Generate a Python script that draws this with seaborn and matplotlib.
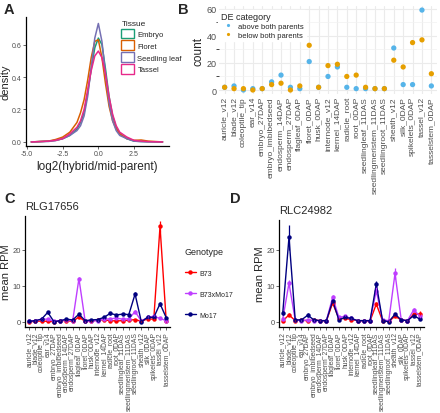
import numpy as np
import pandas as pd
import seaborn as sns
import matplotlib.pyplot as plt
from matplotlib.patches import Patch
from matplotlib.lines import Line2D

sns.set_style('ticks')
plt.rcParams['font.family'] = ['Liberation Sans', 'DejaVu Sans']

# tissues (panels B, C, D)
tissues = ['auricle_v12', 'blade_v12', 'coleoptile_tip', 'ear_v14', 'embryo_27DAP',
           'embryo_imbibedseed', 'endosperm_14DAP', 'endosperm_27DAP', 'flagleaf_0DAP',
           'floret_0DAP', 'husk_0DAP', 'internode_v12', 'kernel_14DAP', 'radicle_root',
           'root_0DAP', 'seedlingleaf_11DAS', 'seedlingmeristem_11DAS', 'seedlingroot_11DAS',
           'sheath_v12', 'silk_0DAP', 'spikelets_0DAP', 'tassel_v12', 'tasselstem_0DAP']

# panel A: density curves
dens_x = [-4.7, -3.5, -3.0, -2.5, -2.0, -1.5, -1.25, -1.0, -0.75, -0.5, -0.25, 0.0,
          0.25, 0.5, 0.75, 1.0, 1.25, 1.5, 2.0, 2.5, 3.0, 3.5, 4.5]
embryo = [0, 0.005, 0.01, 0.02, 0.04, 0.08, 0.12, 0.18, 0.30, 0.45, 0.58, 0.64,
          0.60, 0.45, 0.28, 0.16, 0.09, 0.05, 0.02, 0.005, 0.003, 0.001, 0]
floret = [0, 0.005, 0.015, 0.03, 0.06, 0.12, 0.18, 0.26, 0.38, 0.52, 0.62, 0.63,
          0.52, 0.36, 0.22, 0.13, 0.08, 0.05, 0.02, 0.01, 0.012, 0.005, 0]
seedling_leaf = [0, 0.003, 0.008, 0.02, 0.04, 0.07, 0.10, 0.16, 0.28, 0.46, 0.64, 0.73,
                 0.62, 0.42, 0.24, 0.13, 0.07, 0.04, 0.02, 0.005, 0.002, 0.001, 0]
tassel = [0, 0.005, 0.01, 0.02, 0.05, 0.09, 0.13, 0.20, 0.32, 0.44, 0.53, 0.56,
          0.52, 0.42, 0.28, 0.17, 0.10, 0.06, 0.03, 0.01, 0.005, 0.002, 0]
tissue_names = ['Embryo', 'Floret', 'Seedling leaf', 'Tassel']
tissue_colors = ['#1B9E77', '#D95F02', '#7570B3', '#E7298A']

# panel B: DE counts
above = [2, 3, 0, 1, 1, 6, 11, 2, 1, 21, 2, 10, 17, 2, 1, 1, 1, 1, 31, 4, 4, 59, 3]
below = [2, 1, 1, 0, 1, 4, 5, 0, 3, 33, 2, 18, 19, 10, 11, 2, 1, 1, 22, 17, 35, 37, 12]

# panel C: RLG17656 mean RPM
c_b73 = [0.0, 0.1, 0.2, 0.1, 0.0, 0.3, 0.3, 0.1, 1.3, 0.1, 0.1, 0.5, 0.5, 0.3, 0.2, 0.3,
         0.4, 0.6, 0.1, 0.8, 0.7, 26.5, 0.1]
c_hyb = [0.2, 0.3, 0.7, 0.7, 0.1, 0.3, 0.5, 0.3, 12.0, 0.1, 0.2, 0.3, 0.7, 0.8, 1.0, 0.7,
         0.8, 2.8, 0.2, 1.2, 1.5, 0.9, 0.3]
c_mo17 = [0.1, 0.3, 0.7, 2.6, 0.0, 0.3, 0.7, 0.5, 2.1, 0.3, 0.5, 0.6, 1.2, 2.3, 1.9, 2.1,
          2.0, 7.7, 0.0, 1.2, 1.2, 5.0, 1.1]
c_b73_se = [0.05, 0.05, 0.1, 0.05, 0.05, 0.1, 0.1, 0.05, 0.3, 0.05, 0.05, 0.1, 0.1, 0.1,
            0.1, 0.1, 0.1, 0.1, 0.05, 0.2, 0.2, 1.5, 0.05]
c_hyb_se = [0.1, 0.1, 0.2, 0.2, 0.05, 0.1, 0.1, 0.1, 0.5, 0.05, 0.1, 0.1, 0.2, 0.2, 0.2,
            0.2, 0.2, 0.4, 0.1, 0.3, 0.3, 0.2, 0.1]
c_mo17_se = [0.05, 0.1, 0.2, 0.4, 0.05, 0.1, 0.2, 0.1, 0.4, 0.1, 0.1, 0.1, 0.2, 0.3, 0.2,
             0.3, 0.2, 0.5, 0.05, 0.2, 0.3, 0.6, 0.2]

# panel D: RLC24982 mean RPM
d_b73 = [0.2, 1.9, 0.3, 0.5, 0.2, 0.5, 0.3, 0.2, 5.2, 0.9, 0.9, 0.6, 0.3, 0.2, 0.2, 4.9,
         0.3, 0.1, 1.5, 0.5, 0.3, 2.1, 2.1]
d_hyb = [0.7, 10.7, 0.5, 0.3, 0.5, 0.3, 0.3, 0.3, 6.8, 1.2, 1.5, 0.9, 0.3, 0.3, 0.3, 8.6,
         0.5, 0.3, 13.4, 0.5, 0.3, 3.3, 1.5]
d_mo17 = [2.4, 23.4, 0.5, 0.5, 1.8, 0.5, 0.3, 0.3, 5.8, 0.5, 1.2, 0.9, 0.3, 0.3, 0.3, 10.5,
          0.3, 0.0, 2.1, 0.5, 0.3, 1.7, 0.7]
d_b73_se = [0.1, 0.4, 0.1, 0.1, 0.1, 0.1, 0.1, 0.1, 0.5, 0.2, 0.2, 0.1, 0.1, 0.1, 0.1, 0.6,
            0.1, 0.05, 0.3, 0.1, 0.1, 0.4, 0.9]
d_hyb_se = [0.2, 1.0, 0.1, 0.1, 0.1, 0.1, 0.1, 0.1, 0.6, 0.3, 0.3, 0.2, 0.1, 0.1, 0.1, 1.0,
            0.1, 0.1, 1.5, 0.1, 0.1, 0.5, 0.4]
d_mo17_se = [0.5, 3.5, 0.1, 0.1, 0.6, 0.1, 0.1, 0.1, 0.6, 0.1, 0.3, 0.2, 0.1, 0.1, 0.1, 0.8,
             0.1, 0.05, 0.4, 0.1, 0.1, 0.4, 0.2]

genotypes = ['B73', 'B73xMo17', 'Mo17']
geno_colors = ['#FF0000', '#BF3EFF', '#000080']

tick_gray = '#4D4D4D'

fig = plt.figure(figsize=(4.4, 4.14), dpi=100)
W, H = 440, 414


def box(left, top, right, bottom):
    return [left / W, (H - bottom) / H, (right - left) / W, (bottom - top) / H]


def classic(ax):
    sns.despine(ax=ax)
    for s in ['left', 'bottom']:
        ax.spines[s].set_linewidth(0.9)
        ax.spines[s].set_color('black')
    ax.tick_params(colors=tick_gray, labelsize=5, length=2, width=0.6, pad=1.2)


# ---- A ----
axA = fig.add_axes(box(26, 18, 169, 147))
dfA = pd.DataFrame({
    'x': dens_x * 4,
    'density': embryo + floret + seedling_leaf + tassel,
    'Tissue': np.repeat(tissue_names, len(dens_x)),
})
sns.lineplot(data=dfA, x='x', y='density', hue='Tissue', palette=tissue_colors,
             sort=False, lw=1.1, ax=axA, legend=False)
axA.set_xlim(-5.07, 4.95)
axA.set_ylim(-0.025, 0.77)
axA.set_xticks([-5.0, -2.5, 0.0, 2.5])
axA.set_xticklabels(['-5.0', '-2.5', '0.0', '2.5'])
axA.set_yticks([0.0, 0.2, 0.4, 0.6])
axA.set_yticklabels(['0.0', '0.2', '0.4', '0.6'])
classic(axA)
axA.set_xlabel('log2(hybrid/mid-parent)', fontsize=8.5, labelpad=2)
axA.set_ylabel('density', fontsize=8, labelpad=1)
hA = [Patch(facecolor='white', edgecolor=c, linewidth=1.0) for c in tissue_colors]
legA = axA.legend(hA, tissue_names, title='Tissue', loc='upper left',
                  bbox_to_anchor=(0.63, 1.02), frameon=False, fontsize=5.5,
                  title_fontsize=6, handlelength=1.6, handleheight=1.6,
                  handletextpad=0.5, labelspacing=0.25, borderpad=0.2)
legA._legend_box.align = 'left'

# ---- B ----
axB = fig.add_axes(box(219, 7, 437, 95))
dfB = pd.DataFrame({
    'tissue': tissues * 2,
    'count': above + below,
    'DE category': ['above both parents'] * len(tissues) + ['below both parents'] * len(tissues),
})
sns.stripplot(data=dfB, x='tissue', y='count', hue='DE category', jitter=False,
              palette=['#56B4E9', '#E69F00'], size=3.8, linewidth=0, ax=axB)
axB.set_ylim(-2.95, 62)
axB.set_xlim(-0.6, len(tissues) - 0.4)
axB.set_yticks([0, 20, 40, 60])
axB.set_yticks([10, 30, 50], minor=True)
axB.grid(True, which='major', color='#EBEBEB', lw=0.8)
axB.grid(True, which='minor', axis='y', color='#F2F2F2', lw=0.5)
axB.set_axisbelow(True)
for s in axB.spines.values():
    s.set_visible(False)
axB.tick_params(axis='both', length=0, colors=tick_gray, labelsize=6, pad=1.5)
axB.tick_params(axis='y', labelsize=6.5)
axB.tick_params(axis='x', labelrotation=90)
axB.set_xlabel('')
axB.set_ylabel('count', fontsize=8.5, labelpad=2)
legB = axB.legend(title='DE category', loc='upper left', bbox_to_anchor=(-0.02, 1.0),
                  frameon=True, framealpha=1, edgecolor='white', fontsize=5.5,
                  title_fontsize=6.5, handletextpad=0.2, labelspacing=0.2,
                  borderpad=0.3, markerscale=0.6)
legB._legend_box.align = 'left'


# ---- C and D ----
def rpm_panel(ax, vals, ses, title, ymax):
    dfx = pd.DataFrame({
        'tissue': tissues * 3,
        'rpm': vals[0] + vals[1] + vals[2],
        'Genotype': np.repeat(genotypes, len(tissues)),
    })
    sns.lineplot(data=dfx, x='tissue', y='rpm', hue='Genotype', palette=geno_colors,
                 sort=False, marker='o', markersize=3.2, markeredgewidth=0, lw=1.0,
                 ax=ax, legend=False)
    for v, e, c in zip(vals, ses, geno_colors):
        ax.errorbar(tissues, v, yerr=e, fmt='none', ecolor=c, elinewidth=0.9, capsize=0)
    ax.set_xlim(-0.6, len(tissues) - 0.4)
    ax.set_ylim(-1.47, ymax)
    ax.set_yticks([0, 10, 20])
    classic(ax)
    ax.tick_params(axis='x', labelrotation=90, labelsize=4.9)
    ax.tick_params(axis='y', labelsize=5.5)
    ax.set_xlabel('')
    ax.set_ylabel('mean RPM', fontsize=8, labelpad=1)
    ax.set_title(title, fontsize=8, loc='left', pad=5)


axC = fig.add_axes(box(25.3, 217, 170, 328))
rpm_panel(axC, [c_b73, c_hyb, c_mo17], [c_b73_se, c_hyb_se, c_mo17_se], 'RLG17656', 29.4)
axD = fig.add_axes(box(279, 220.5, 423.7, 328))
rpm_panel(axD, [d_b73, d_hyb, d_mo17], [d_b73_se, d_hyb_se, d_mo17_se], 'RLC24982', 28.4)

hC = [Line2D([0], [0], color=c, lw=1.0, marker='o', markersize=3.2, markeredgewidth=0)
      for c in geno_colors]
legC = fig.legend(hC, genotypes, title='Genotype', loc='upper left',
                  bbox_to_anchor=(180 / W, 1 - 243 / H), frameon=False, fontsize=5,
                  title_fontsize=6.5, handlelength=1.6, handletextpad=0.5,
                  labelspacing=2.0, borderpad=0.2)
legC._legend_box.align = 'left'

# panel letters
for lab, x, y in [('A', 4, 14), ('B', 178, 14), ('C', 4, 203), ('D', 230, 203)]:
    fig.text(x / W, 1 - y / H, lab, fontsize=10.5, fontweight='bold')

fig.savefig('out.png', dpi=100)
